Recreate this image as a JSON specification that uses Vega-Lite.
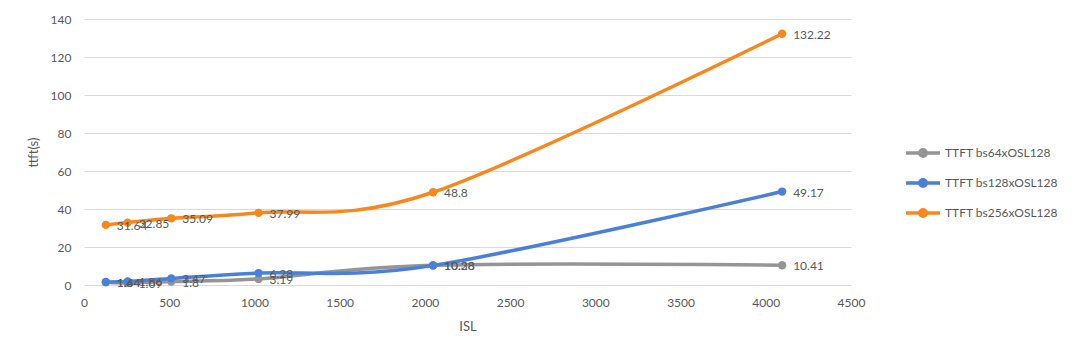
{
  "$schema": "https://vega.github.io/schema/vega-lite/v6.json",
  "width": 767,
  "height": 266,
  "autosize": {"type": "none"},
  "padding": {"left": 84, "top": 19, "right": 229, "bottom": 76},
  "background": "white",
  "config": {
    "font": "Lato",
    "view": {"stroke": null},
    "axis": {"labelColor": "#595959", "titleColor": "#595959", "labelFontSize": 12, "titleFontSize": 13, "titleFontWeight": "normal", "ticks": false, "domain": false, "gridColor": "#D9D9D9", "gridWidth": 1, "labelFlush": false}
  },
  "data": {
    "values": [
      {"series": "TTFT bs64xOSL128", "isl": 128, "ttft": 1.44},
      {"series": "TTFT bs64xOSL128", "isl": 256, "ttft": 1.09},
      {"series": "TTFT bs64xOSL128", "isl": 512, "ttft": 1.8},
      {"series": "TTFT bs64xOSL128", "isl": 1024, "ttft": 3.19},
      {"series": "TTFT bs64xOSL128", "isl": 2048, "ttft": 10.38},
      {"series": "TTFT bs64xOSL128", "isl": 4096, "ttft": 10.41},
      {"series": "TTFT bs128xOSL128", "isl": 128, "ttft": 1.64},
      {"series": "TTFT bs128xOSL128", "isl": 256, "ttft": 1.86},
      {"series": "TTFT bs128xOSL128", "isl": 512, "ttft": 3.47},
      {"series": "TTFT bs128xOSL128", "isl": 1024, "ttft": 6.28},
      {"series": "TTFT bs128xOSL128", "isl": 2048, "ttft": 10.28},
      {"series": "TTFT bs128xOSL128", "isl": 4096, "ttft": 49.17},
      {"series": "TTFT bs256xOSL128", "isl": 128, "ttft": 31.64},
      {"series": "TTFT bs256xOSL128", "isl": 256, "ttft": 32.85},
      {"series": "TTFT bs256xOSL128", "isl": 512, "ttft": 35.09},
      {"series": "TTFT bs256xOSL128", "isl": 1024, "ttft": 37.99},
      {"series": "TTFT bs256xOSL128", "isl": 2048, "ttft": 48.8},
      {"series": "TTFT bs256xOSL128", "isl": 4096, "ttft": 132.22}
    ]
  },
  "encoding": {
    "x": {"field": "isl", "type": "quantitative", "title": "ISL",
      "scale": {"domain": [0, 4500], "nice": false},
      "axis": {"values": [0, 500, 1000, 1500, 2000, 2500, 3000, 3500, 4000, 4500], "format": "d", "grid": false, "labelFlush": false, "labelPadding": 12, "titlePadding": 12}},
    "y": {"field": "ttft", "type": "quantitative", "title": "ttft(s)",
      "scale": {"domain": [0, 140], "nice": false},
      "axis": {"values": [0, 20, 40, 60, 80, 100, 120, 140], "labelFlush": false, "labelPadding": 13, "titlePadding": 10}},
    "color": {"field": "series", "type": "nominal", "title": null,
      "scale": {"domain": ["TTFT bs64xOSL128", "TTFT bs128xOSL128", "TTFT bs256xOSL128"], "range": ["#959595", "#4A80D8", "#F8881E"]},
      "legend": {"orient": "none", "legendX": 820, "legendY": 115, "padding": 0,
        "symbolType": "M-1,0L1,0M-0.19,0A0.19,0.19 0 1,1 0.19,0A0.19,0.19 0 1,1 -0.19,0Z",
        "symbolSize": 1156, "symbolStrokeWidth": 3.5, "labelFontSize": 12, "labelColor": "#595959", "labelOffset": 3, "rowPadding": -6,
        "encode": {"symbols": {"update": {"fill": {"scale": "color", "field": "value"}, "stroke": {"scale": "color", "field": "value"}}}}}}
  },
  "layer": [
    {"mark": {"type": "line", "interpolate": "cardinal", "strokeWidth": 3.5}},
    {"mark": {"type": "point", "filled": true, "opacity": 1, "size": 70}},
    {"mark": {"type": "text", "align": "left", "baseline": "middle", "dx": 11, "dy": 1, "fontSize": 12, "color": "#595959"},
      "encoding": {"text": {"field": "ttft", "type": "quantitative"}, "color": {"value": "#595959"}}}
  ]
}
